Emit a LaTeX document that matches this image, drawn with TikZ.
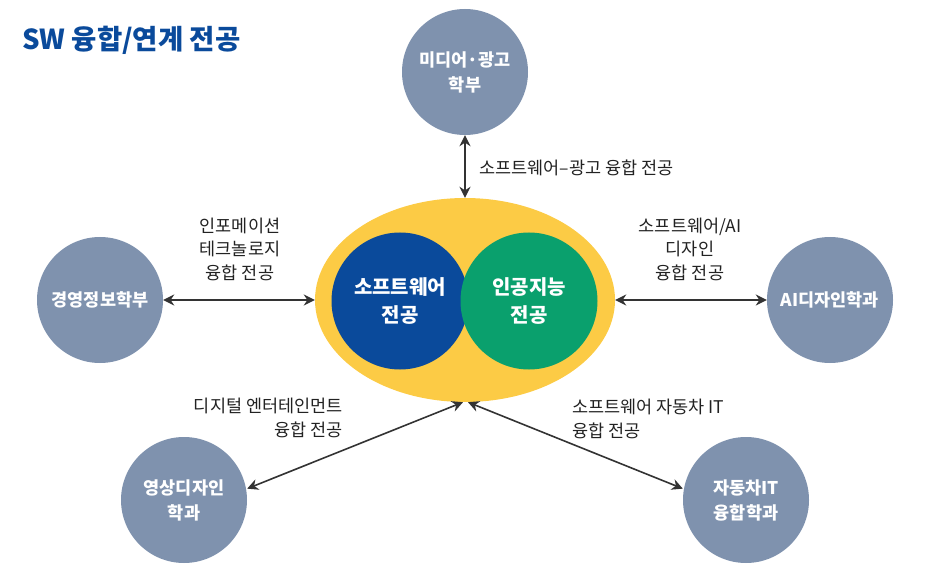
\documentclass[tikz,border=0pt]{standalone}
\usepackage{fontspec}
\usepackage{xcolor}
\usepackage{tikz}
\usetikzlibrary{arrows.meta}
\usetikzlibrary{shapes.geometric}
\setmainfont{Noto Sans CJK KR}
\definecolor{deptgray}{HTML}{7F92AE}
\definecolor{swblue}{HTML}{0A4A9B}
\definecolor{aigreen}{HTML}{0AA06D}
\definecolor{coreyellow}{HTML}{FCCB45}
\definecolor{arrowgray}{HTML}{333333}
\definecolor{labelgray}{HTML}{222222}
\def\deptsize{126pt}
\def\majorsize{137pt}

\begin{document}
\begin{tikzpicture}[x=1pt, y=-1pt,
	dept/.style={circle, fill=deptgray, minimum size=\deptsize, inner sep=0pt,
		text=white, align=center, font=\bfseries\fontsize{17.5}{25}\selectfont},
	major/.style={circle, minimum size=\majorsize, inner sep=0pt,
		text=white, align=center, font=\bfseries\fontsize{20}{28}\selectfont},
	link/.style={{Stealth[length=11pt,width=11pt]}-{Stealth[length=11pt,width=11pt]},
		line width=1.6pt, draw=arrowgray},
	lbl/.style={text=labelgray, inner sep=0pt, font=\fontsize{17.5}{23.5}\selectfont}]
	\useasboundingbox (0,0) rectangle (930,575);

	\node[anchor=west, inner sep=0pt, text=swblue, font=\bfseries\fontsize{27.5}{30}\selectfont]
		(title) at (22,40) {SW 융합/연계 전공};

	% core majors
	\node[ellipse, fill=coreyellow, minimum width=300pt, minimum height=204pt, inner sep=0pt]
		(core) at (465,300) {};
	\node[major, fill=swblue] (sw) at (400,301) {소프트웨어\\전공};
	\node[major, fill=aigreen] (ai) at (529,301) {인공지능\\전공};

	% departments
	\node[dept] (media) at (465,72) {미디어·광고\\학부};
	\node[dept] (mis) at (100,300) {경영정보학부};
	\node[dept] (aidesign) at (830,300) {AI디자인학과};
	\node[dept] (video) at (184,500) {영상디자인\\학과};
	\node[dept] (auto) at (746,500) {자동차IT\\융합학과};

	\draw[link] (media) -- (core.north);
	\draw[link] (mis) -- (core.west);
	\draw[link] (core.east) -- (aidesign);
	\draw[link, shorten <=1pt] (video.10) -- ([xshift=-2pt]core.south);
	\draw[link, shorten >=1pt] ([xshift=3pt]core.south) -- (auto.170);

	% labels
	\node[lbl, anchor=west] (lmedia) at (479,168) {소프트웨어–광고 융합 전공};
	\node[lbl, align=center] (lmis) at (240,249) {인포메이션\\테크놀로지\\융합 전공};
	\node[lbl, align=center] (laidesign) at (690,249) {소프트웨어/AI\\디자인\\융합 전공};
	\node[lbl, anchor=east, align=right] (lvideo) at (343,418) {디지털 엔터테인먼트\\융합 전공};
	\node[lbl, anchor=west, align=left] (lauto) at (572,419) {소프트웨어 자동차 IT\\융합 전공};
\end{tikzpicture}
\end{document}
